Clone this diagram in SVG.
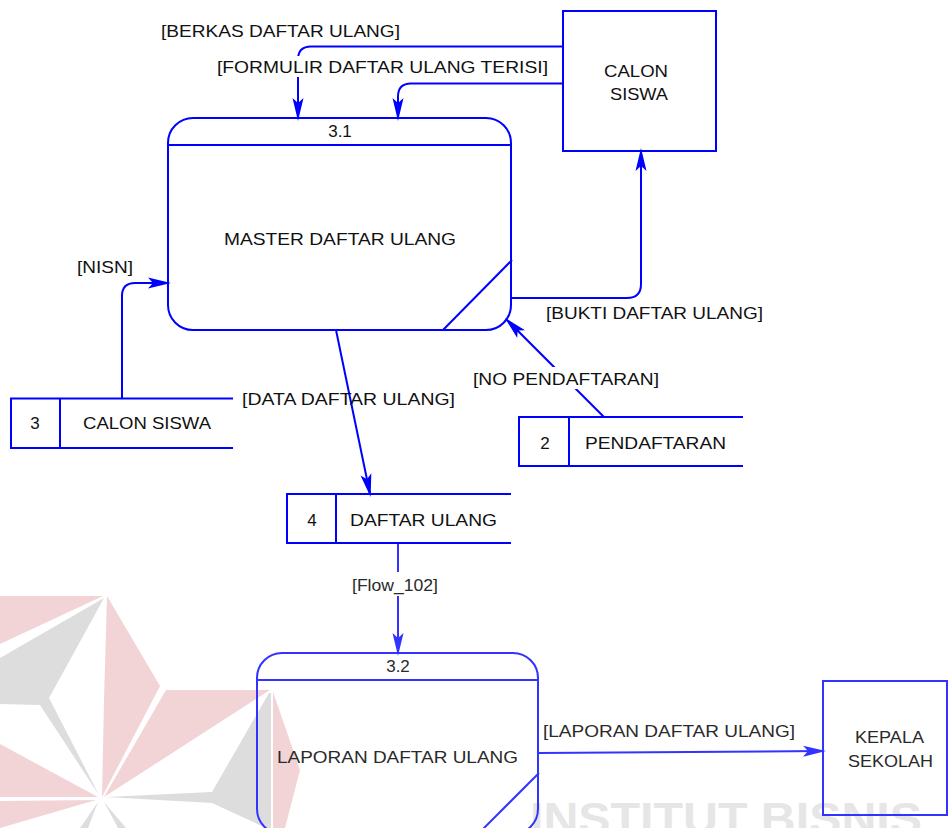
<svg xmlns="http://www.w3.org/2000/svg" width="948" height="828" viewBox="0 0 948 828">
<style>
.ln{fill:none;stroke:#0000ff;stroke-width:2}
.ln2{fill:none;stroke:#3333ff;stroke-width:2}
.bx{fill:none;stroke:#0000ff;stroke-width:2}
.bx2{fill:none;stroke:#3333ff;stroke-width:2}
text{font-family:"Liberation Sans",Arial,sans-serif;font-size:17px;fill:#111}
.c{text-anchor:middle}
.lo{fill:#2a2a2a}
.wr{fill:#f2d4d7}
.wg{fill:#dddddd}
.wt{font-family:"Liberation Sans",Arial,sans-serif;font-weight:bold;font-size:45px;fill:#e6e6e6}
</style>
<defs>
<marker id="ah" viewBox="-21 -6 25 12" refX="0" refY="0" markerWidth="25" markerHeight="12" markerUnits="userSpaceOnUse" orient="auto">
<path d="M3,0 L-20,-5.5 L-15,0 L-20,5.5 Z" fill="#0000ff"/>
</marker>
<marker id="ah2" viewBox="-21 -6 25 12" refX="0" refY="0" markerWidth="25" markerHeight="12" markerUnits="userSpaceOnUse" orient="auto">
<path d="M3,0 L-20,-5.5 L-15,0 L-20,5.5 Z" fill="#3333ff"/>
</marker>
</defs>
<rect width="948" height="828" fill="#ffffff"/>
<g id="watermark">
<polygon class="wr" points="0,596 103,596 0,644"/>
<polygon class="wr" points="107,596 160,686 102,797 104,700"/>
<polygon class="wr" points="166,690 270,690 104,797"/>
<polygon class="wr" points="0,744 98,797 0,797"/>
<polygon class="wr" points="0,801 96,800 0,828"/>
<polygon class="wr" points="273,692 300,770 285,828 273,828"/>
<polygon class="wg" points="104,598 0,658 0,704 40,705 99,795 49,698"/>
<polygon class="wg" points="269,693 212,792 106,797 212,803 266,828 271,828 271,693"/>
<polygon class="wg" points="98,802 80,828 88,828"/>
<polygon class="wg" points="104,802 118,828 126,828"/>
<text class="wt" x="530" y="834" textLength="392" lengthAdjust="spacingAndGlyphs">INSTITUT BISNIS</text>
</g>
<g id="connectors">
<path class="ln" d="M563,46.5 H311 Q298,46.5 298,59.5 V118" marker-end="url(#ah)"/>
<path class="ln" d="M563,83.5 H411 Q398,83.5 398,96.5 V118" marker-end="url(#ah)"/>
<path class="ln" d="M122,398 V296 Q122,283 135,283 H168" marker-end="url(#ah)"/>
<path class="ln" d="M511,298 H627 Q641,298 641,284 V151" marker-end="url(#ah)"/>
<path class="ln" d="M604,417 L507,320" marker-end="url(#ah)"/>
<path class="ln" d="M336,330 L370,494" marker-end="url(#ah)"/>
<path class="ln2" d="M398,543 V653" marker-end="url(#ah2)"/>
<path class="ln2" d="M539,753 L823,751" marker-end="url(#ah2)"/>
</g>
<g id="labels">
<text x="161" y="37" textLength="239" lengthAdjust="spacingAndGlyphs">[BERKAS DAFTAR ULANG]</text>
<rect x="215" y="56" width="334" height="21" fill="#ffffff"/>
<text x="217" y="73" textLength="331" lengthAdjust="spacingAndGlyphs">[FORMULIR DAFTAR ULANG TERISI]</text>
<text x="77" y="273" textLength="56" lengthAdjust="spacingAndGlyphs">[NISN]</text>
<text x="242" y="405" textLength="213" lengthAdjust="spacingAndGlyphs">[DATA DAFTAR ULANG]</text>
<text x="546" y="319" textLength="217" lengthAdjust="spacingAndGlyphs">[BUKTI DAFTAR ULANG]</text>
<rect x="471" y="367" width="190" height="22" fill="#ffffff"/>
<text x="473" y="385" textLength="186" lengthAdjust="spacingAndGlyphs">[NO PENDAFTARAN]</text>
<rect x="350" y="572" width="90" height="24" fill="#ffffff"/>
<text class="lo" x="352" y="591" textLength="86" lengthAdjust="spacingAndGlyphs">[Flow_102]</text>
<text class="lo" x="543" y="737" textLength="252" lengthAdjust="spacingAndGlyphs">[LAPORAN DAFTAR ULANG]</text>
</g>
<g id="p31">
<rect class="bx" x="168" y="118" width="343" height="212" rx="25" ry="25"/>
<line class="bx" x1="168" y1="145" x2="511" y2="145"/>
<line class="bx" x1="512" y1="260" x2="443" y2="330"/>
<text class="c" x="340" y="137">3.1</text>
<text x="224" y="245" textLength="232" lengthAdjust="spacingAndGlyphs">MASTER DAFTAR ULANG</text>
</g>
<g id="calon-siswa">
<rect class="bx" x="563" y="11" width="153" height="140"/>
<text x="604" y="77" textLength="64" lengthAdjust="spacingAndGlyphs">CALON</text>
<text x="610" y="100" textLength="58" lengthAdjust="spacingAndGlyphs">SISWA</text>
</g>
<g id="ds3">
<path class="bx" d="M233,398.5 H11 V448 H233 M60,398.5 V448"/>
<text class="c" x="35" y="429">3</text>
<text x="83" y="429" textLength="128" lengthAdjust="spacingAndGlyphs">CALON SISWA</text>
</g>
<g id="ds2">
<path class="bx" d="M743,417 H519 V466 H743 M569,417 V466"/>
<text class="c" x="545" y="449">2</text>
<text x="585" y="449" textLength="141" lengthAdjust="spacingAndGlyphs">PENDAFTARAN</text>
</g>
<g id="ds4">
<path class="bx" d="M511,494 H287 V543 H511 M336,494 V543"/>
<text class="c" x="312" y="526">4</text>
<text x="350" y="526" textLength="147" lengthAdjust="spacingAndGlyphs">DAFTAR ULANG</text>
</g>
<g id="p32">
<rect class="bx2" x="257" y="653" width="281" height="181" rx="25" ry="25"/>
<line class="bx2" x1="257" y1="680" x2="538" y2="680"/>
<line class="bx2" x1="539" y1="773" x2="480" y2="832"/>
<text class="c lo" x="398" y="672">3.2</text>
<text class="lo" x="277" y="763" textLength="241" lengthAdjust="spacingAndGlyphs">LAPORAN DAFTAR ULANG</text>
</g>
<g id="kepala-sekolah">
<rect class="bx2" x="823" y="681" width="124" height="134"/>
<text class="lo" x="855" y="743" textLength="69" lengthAdjust="spacingAndGlyphs">KEPALA</text>
<text class="lo" x="848" y="767" textLength="85" lengthAdjust="spacingAndGlyphs">SEKOLAH</text>
</g>
</svg>
